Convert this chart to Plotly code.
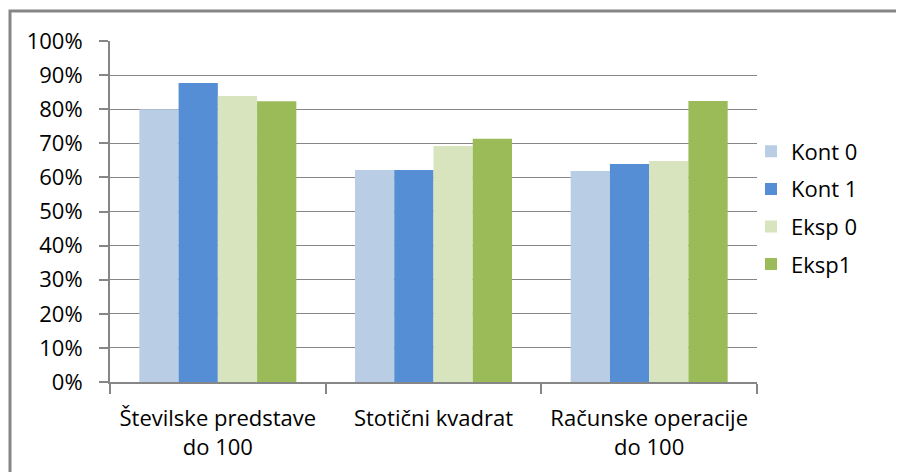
import plotly.graph_objects as go

categories = ["Številske predstave<br>do 100", "Stotični kvadrat", "Računske operacije<br>do 100"]
series_names = ["Kont 0", "Kont 1", "Eksp 0", "Eksp1"]
kont0 = [0.800, 0.622, 0.619]
kont1 = [0.877, 0.622, 0.639]
eksp0 = [0.839, 0.692, 0.648]
eksp1 = [0.823, 0.713, 0.824]
colors = ["#B9CDE5", "#558ED5", "#D7E4BD", "#9BBB59"]

FONT = "Open Sans"
GRAY = "#868686"
FS = 22

fig = go.Figure()
for name, vals, col in zip(series_names, [kont0, kont1, eksp0, eksp1], colors):
    fig.add_trace(go.Bar(name=name, x=categories, y=vals, marker_color=col,
                         marker_line_width=0, legendgroup=name))

# page has an 8px body margin; figure is sized to fit the 904x472 window
OFF = 8
W, H = 904 - OFF, 472 - OFF
L, T = 110 - OFF, 41 - OFF
pw, ph = 647, 341
R, B = W - L - pw, H - T - ph

def px_x(x):
    return (x - OFF - L) / pw

def px_y(y):
    return (T + ph - (y - OFF)) / ph

fig.update_layout(
    width=W, height=H,
    margin=dict(l=L, r=R, t=T, b=B, pad=0, autoexpand=False),
    paper_bgcolor="white", plot_bgcolor="white",
    barmode="group", bargap=0.272, bargroupgap=0,
    font=dict(family=FONT, size=FS, color="#000000"),
    showlegend=True,
    legend=dict(x=px_x(751), xanchor="left", y=px_y(208), yanchor="middle",
                font=dict(family=FONT, size=FS), tracegroupgap=6,
                bgcolor="rgba(0,0,0,0)"),
    shapes=[dict(type="rect", xref="paper", yref="paper",
                 x0=px_x(10), x1=px_x(930), y0=px_y(500), y1=px_y(11),
                 line=dict(color=GRAY, width=3), fillcolor="rgba(0,0,0,0)",
                 layer="below")],
)
fig.update_xaxes(showline=True, linecolor=GRAY, linewidth=2, showgrid=False,
                 ticks="outside", tickson="boundaries", ticklen=10, tickwidth=1.5,
                 tickcolor=GRAY, tickfont=dict(family=FONT, size=FS),
                 ticklabelstandoff=16, automargin=False)
fig.update_yaxes(range=[0, 1], dtick=0.1, tickformat=".0%", showline=True,
                 linecolor=GRAY, linewidth=2, showgrid=True, gridcolor=GRAY,
                 gridwidth=1, ticks="outside", ticklen=9, tickwidth=1.5,
                 tickcolor=GRAY, zeroline=False, automargin=False,
                 tickfont=dict(family=FONT, size=FS), ticklabelstandoff=12)

fig.write_html("out.html")
